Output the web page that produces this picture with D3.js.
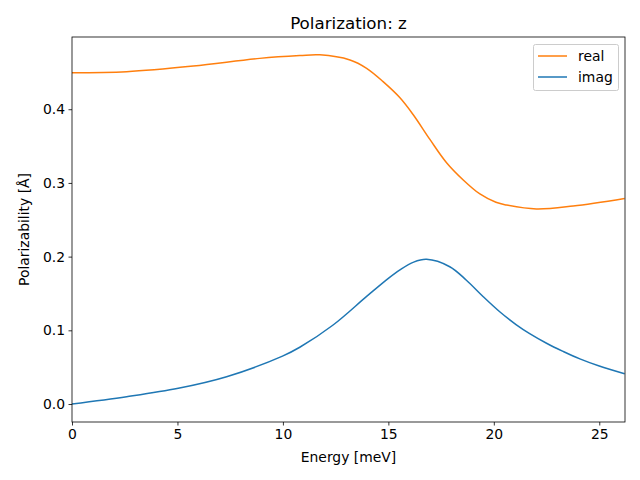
<!DOCTYPE html>
<html><head><meta charset="utf-8">
<script src="https://cdn.jsdelivr.net/npm/d3@7"></script>
<style>body{margin:0;background:#fff}svg{display:block;font-family:"DejaVu Sans",sans-serif}</style>
</head><body><svg id="c" width="640" height="480"></svg>
<script>
const realE = [0, 2.59, 5.75, 8.9, 10.8, 11.75, 13.18, 13.97, 14.75, 15.55, 16.18, 16.97, 17.76, 18.55, 19.34, 20.1, 20.6, 22.02, 23.76, 26.2];
const realV = [0.4496, 0.451, 0.4586, 0.469, 0.4728, 0.4738, 0.4668, 0.4555, 0.4374, 0.4155, 0.3925, 0.359, 0.3274, 0.304, 0.285, 0.2737, 0.270, 0.2646, 0.2687, 0.279];
const imagE = [0, 2.59, 5.04, 7.33, 9.98, 10.8, 12.38, 13.97, 15.0, 15.55, 16.2, 16.81, 17.91, 18.7, 19.5, 20.28, 21.07, 21.7, 22.5, 23.28, 24.08, 25.0, 26.2];
const imagV = [0, 0.0099, 0.0213, 0.037, 0.065, 0.077, 0.1072, 0.146, 0.1705, 0.182, 0.1925, 0.1963, 0.1863, 0.168, 0.1456, 0.1252, 0.1075, 0.0955, 0.0825, 0.0715, 0.0612, 0.0515, 0.041];
const xTicks = [0, 5, 10, 15, 20, 25];
const yTicks = [0.0, 0.1, 0.2, 0.3, 0.4];
const seriesNames = ["real", "imag"];
const colors = ["#ff7f0e", "#1f77b4"];

const svg = d3.select("#c");
const L = 72, R = 625, T = 37, B = 422;
const FS = 13.9;
const x = d3.scaleLinear().domain([0, 26.22]).range([L, R]);
const y = d3.scaleLinear().domain([-0.0244, 0.498]).range([B, T]);

const line = d3.line().x(d => x(d[0])).y(d => y(d[1])).curve(d3.curveCatmullRom.alpha(0.5));
const series = [realE.map((e, i) => [e, realV[i]]), imagE.map((e, i) => [e, imagV[i]])];

const g = svg.append("g");
g.append("defs").append("clipPath").attr("id", "clip").append("rect")
  .attr("x", L).attr("y", T).attr("width", R - L).attr("height", B - T);
series.forEach((s, i) => {
  g.append("path").attr("d", line(s)).attr("fill", "none").attr("stroke", colors[i])
    .attr("stroke-width", 1.5).attr("clip-path", "url(#clip)");
});

const xa = svg.append("g").attr("transform", `translate(0,${B})`)
  .call(d3.axisBottom(x).tickValues(xTicks).tickFormat(d3.format("d")).tickSizeOuter(0).tickSize(3.5).tickPadding(3.5));
const ya = svg.append("g").attr("transform", `translate(${L},0)`)
  .call(d3.axisLeft(y).tickValues(yTicks).tickFormat(d3.format(".1f")).tickSizeOuter(0).tickSize(3.5).tickPadding(3.5));
[xa, ya].forEach(a => {
  a.selectAll("text").attr("font-size", FS).attr("fill", "#000").attr("font-family", "DejaVu Sans");
  a.selectAll("line").attr("stroke", "#000").attr("stroke-width", 0.8);
  a.select(".domain").remove();
});
svg.append("rect").attr("x", L).attr("y", T).attr("width", R - L).attr("height", B - T)
  .attr("fill", "none").attr("stroke", "#000").attr("stroke-width", 0.8);

svg.append("text").attr("x", (L + R) / 2).attr("y", 29).attr("text-anchor", "middle")
  .attr("font-size", 16.7).text("Polarization: z");
svg.append("text").attr("x", (L + R) / 2).attr("y", 462).attr("text-anchor", "middle")
  .attr("font-size", FS).text("Energy [meV]");
svg.append("text").attr("transform", `translate(29,${(T + B) / 2}) rotate(-90)`).attr("text-anchor", "middle")
  .attr("font-size", FS).text("Polarizability [Å]");

const lg = svg.append("g");
lg.append("rect").attr("x", 533.5).attr("y", 44.5).attr("width", 85).attr("height", 46).attr("rx", 2)
  .attr("fill", "#fff").attr("fill-opacity", 0.8).attr("stroke", "#ccc").attr("stroke-width", 1);
seriesNames.forEach((n, i) => {
  const yy = 56 + i * 21;
  lg.append("line").attr("x1", 538).attr("x2", 567).attr("y1", yy).attr("y2", yy)
    .attr("stroke", colors[i]).attr("stroke-width", 1.5);
  lg.append("text").attr("x", 578).attr("y", yy + 5).attr("font-size", FS).text(n);
});
</script></body></html>
